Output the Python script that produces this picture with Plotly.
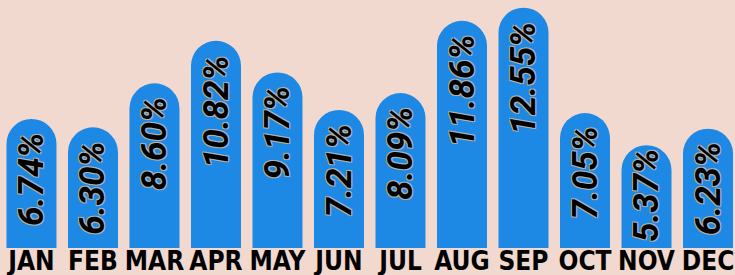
import plotly.graph_objects as go

months = ["JAN", "FEB", "MAR", "APR", "MAY", "JUN", "JUL", "AUG", "SEP", "OCT", "NOV", "DEC"]
values = [6.74, 6.30, 8.60, 10.82, 9.17, 7.21, 8.09, 11.86, 12.55, 7.05, 5.37, 6.23]
labels = [f"{v:.2f}%" for v in values]

outline = "-1px -1px 0 #b0b0b0, 1px -1px 0 #b0b0b0, -1px 1px 0 #b0b0b0, 1px 1px 0 #b0b0b0"

PLOT_H = 248
YMAX = 12.95
TEXT_LEN = 94

fig = go.Figure(go.Bar(
    x=months,
    y=values,
    marker=dict(color="#1E88E5", cornerradius="50%", line=dict(width=0)),
    width=0.813,
    hoverinfo="skip",
))

for m, v, t in zip(months, values, labels):
    bar_px = v / YMAX * PLOT_H
    shift = max(0, min(12, bar_px - TEXT_LEN - 7))
    fig.add_annotation(
        x=m, y=v, text=t, showarrow=False,
        textangle=-90, xanchor="center", yanchor="top", yshift=-shift,
        font=dict(family="Roboto", size=35, color="black",
                  weight="bold", style="italic", shadow=outline),
    )

fig.update_layout(
    width=735, height=275,
    margin=dict(l=0, r=0, t=0, b=27),
    paper_bgcolor="#F1D9CF",
    plot_bgcolor="#F1D9CF",
    showlegend=False,
    xaxis=dict(
        range=[-0.512, 11.439],
        showgrid=False, zeroline=False, showline=False, ticks="",
        tickangle=0, automargin=False, ticklabelstandoff=-5,
        tickfont=dict(family="DejaVu Sans Condensed", size=26, color="black", weight="bold"),
    ),
    yaxis=dict(range=[0, YMAX], visible=False, showgrid=False, zeroline=False),
)

fig.write_html(
    "out.html",
    config={"displayModeBar": False},
    post_script="document.body.style.margin='0';document.body.style.background='#F1D9CF';",
)
